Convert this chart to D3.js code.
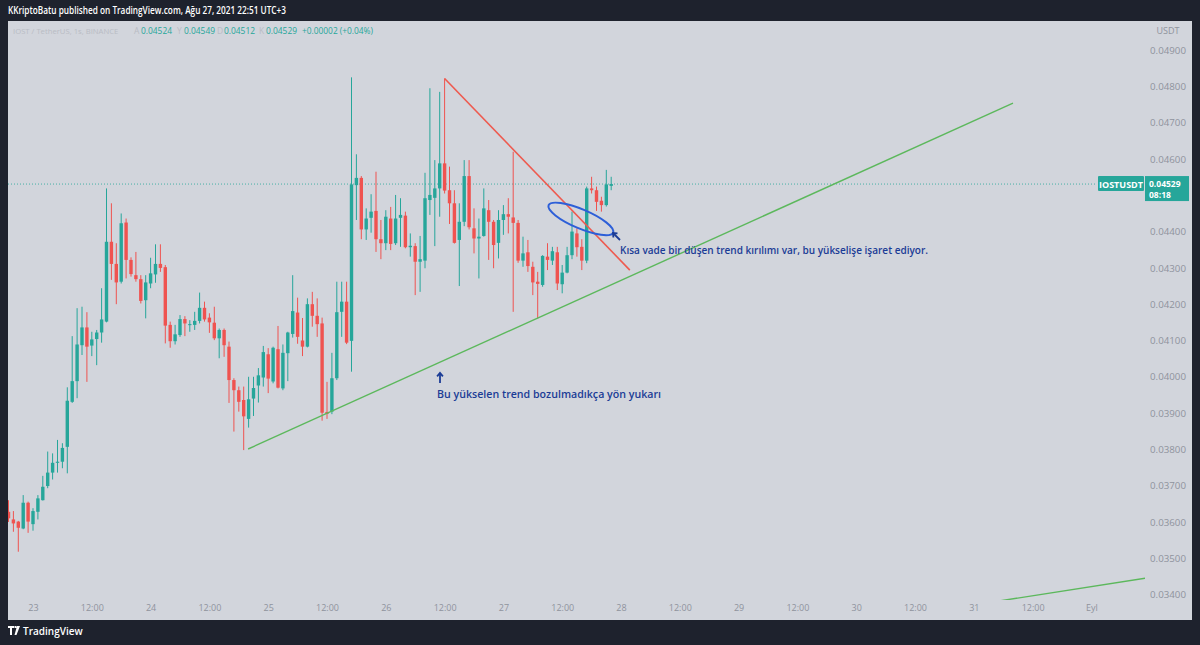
<!DOCTYPE html>
<html><head><meta charset="utf-8">
<script src="https://cdn.jsdelivr.net/npm/d3@7"></script>
<style>
html,body{margin:0;padding:0;background:#1e222d;}
svg{display:block;}
text{font-family:"Open Sans","Noto Sans",sans-serif;}
</style></head><body>
<svg id="chart" width="1200" height="645"></svg>
<script>
// ---------- data (IOST/USDT, 1h candles, starting 22 Aug 2021 19:00 UTC) ----------
const firstCandle = Date.UTC(2021, 7, 22, 19);
const opens = [0.03626,0.03605,0.03599,0.03580,0.03651,0.03592,0.03626,0.03658,0.03697,0.03734,0.03761,0.03764,0.03805,0.03929,0.03986,0.04085,0.04134,0.04084,0.04102,0.04120,0.04150,0.04370,0.04309,0.04260,0.04423,0.04320,0.04278,0.04267,0.04209,0.04255,0.04280,0.04309,0.04300,0.04141,0.04096,0.04113,0.04157,0.04141,0.04141,0.04152,0.04188,0.04161,0.04147,0.04104,0.04127,0.04081,0.03989,0.03961,0.03934,0.03882,0.03938,0.03974,0.03996,0.04060,0.03985,0.04074,0.03966,0.04063,0.04116,0.04175,0.04098,0.04081,0.04198,0.04166,0.04145,0.03901,0.03902,0.03994,0.04177,0.04205,0.04097,0.04526,0.04546,0.04404,0.04436,0.04455,0.04377,0.04366,0.04434,0.04366,0.04436,0.04442,0.04355,0.04358,0.04315,0.04318,0.04485,0.04491,0.04517,0.04586,0.04512,0.04476,0.04375,0.04425,0.04551,0.04407,0.04379,0.04386,0.04457,0.04425,0.04367,0.04430,0.04446,0.04437,0.04422,0.04318,0.04341,0.04301,0.04260,0.04251,0.04329,0.04318,0.04341,0.04253,0.04285,0.04333,0.04393,0.04356,0.04318,0.04517,0.04512,0.04483,0.04471,0.04524];
const highs = [0.03658,0.03628,0.03601,0.03672,0.03654,0.03636,0.03672,0.03725,0.03792,0.03787,0.03824,0.03815,0.03969,0.04110,0.04187,0.04191,0.04176,0.04122,0.04127,0.04242,0.04517,0.04476,0.04366,0.04448,0.04434,0.04327,0.04342,0.04278,0.04278,0.04326,0.04363,0.04363,0.04306,0.04150,0.04141,0.04168,0.04165,0.04154,0.04177,0.04230,0.04205,0.04173,0.04191,0.04131,0.04131,0.04095,0.03994,0.03971,0.03971,0.03998,0.03998,0.04022,0.04083,0.04077,0.04081,0.04138,0.04087,0.04122,0.04278,0.04216,0.04160,0.04214,0.04232,0.04214,0.04161,0.03984,0.04064,0.04260,0.04260,0.04260,0.04823,0.04611,0.04551,0.04462,0.04501,0.04563,0.04430,0.04457,0.04466,0.04499,0.04490,0.04453,0.04393,0.04366,0.04386,0.04560,0.04793,0.04595,0.04783,0.04820,0.04577,0.04512,0.04476,0.04595,0.04595,0.04462,0.04434,0.04517,0.04485,0.04430,0.04457,0.04471,0.04490,0.04618,0.04430,0.04384,0.04375,0.04315,0.04287,0.04333,0.04366,0.04356,0.04356,0.04306,0.04356,0.04453,0.04407,0.04377,0.04522,0.04549,0.04522,0.04494,0.04568,0.04549];
const lows = [0.03598,0.03571,0.03516,0.03578,0.03568,0.03574,0.03605,0.03657,0.03691,0.03715,0.03734,0.03746,0.03732,0.03926,0.03939,0.04058,0.03984,0.04055,0.04030,0.04092,0.04148,0.04265,0.04198,0.04255,0.04269,0.04274,0.04260,0.04200,0.04159,0.04242,0.04257,0.04287,0.04090,0.04078,0.04087,0.04108,0.04110,0.04122,0.04127,0.04145,0.04150,0.04119,0.04099,0.04049,0.04053,0.03926,0.03847,0.03902,0.03796,0.03858,0.03890,0.03927,0.03971,0.03953,0.03980,0.03966,0.03961,0.03986,0.04106,0.04089,0.04055,0.04079,0.04136,0.04108,0.03877,0.03882,0.03895,0.03989,0.04108,0.04088,0.04012,0.04430,0.04377,0.04375,0.04395,0.04342,0.04322,0.04347,0.04347,0.04361,0.04356,0.04352,0.04329,0.04223,0.04232,0.04297,0.04444,0.04358,0.04439,0.04503,0.04419,0.04365,0.04248,0.04413,0.04404,0.04338,0.04269,0.04384,0.04320,0.04297,0.04324,0.04389,0.04393,0.04177,0.04312,0.04301,0.04287,0.04223,0.04159,0.04246,0.04292,0.04306,0.04237,0.04228,0.04283,0.04322,0.04329,0.04292,0.04311,0.04503,0.04455,0.04453,0.04467,0.04512];
const closes = [0.03608,0.03594,0.03582,0.03651,0.03599,0.03628,0.03663,0.03695,0.03734,0.03761,0.03764,0.03802,0.03932,0.03986,0.04087,0.04134,0.04081,0.04101,0.04120,0.04156,0.04370,0.04309,0.04258,0.04421,0.04320,0.04281,0.04267,0.04207,0.04258,0.04283,0.04309,0.04298,0.04139,0.04096,0.04115,0.04157,0.04145,0.04143,0.04152,0.04188,0.04156,0.04148,0.04104,0.04127,0.04085,0.03989,0.03961,0.03929,0.03889,0.03936,0.03967,0.04002,0.04066,0.03993,0.04078,0.03968,0.04064,0.04120,0.04179,0.04108,0.04081,0.04198,0.04166,0.04143,0.03899,0.03896,0.03994,0.04176,0.04205,0.04092,0.04528,0.04546,0.04404,0.04434,0.04453,0.04377,0.04366,0.04439,0.04364,0.04434,0.04444,0.04355,0.04359,0.04315,0.04322,0.04490,0.04499,0.04517,0.04586,0.04511,0.04476,0.04367,0.04425,0.04551,0.04410,0.04379,0.04384,0.04462,0.04425,0.04361,0.04430,0.04446,0.04439,0.04422,0.04318,0.04338,0.04303,0.04258,0.04254,0.04331,0.04320,0.04344,0.04255,0.04285,0.04333,0.04398,0.04355,0.04318,0.04517,0.04512,0.04480,0.04471,0.04528,0.04529];

const priceTicks = [0.034,0.035,0.036,0.037,0.038,0.039,0.040,0.041,0.042,0.043,0.044,0.045,0.046,0.047,0.048,0.049];
const lastPrice = 0.04529;
const lastChange = 0.00002;
const lastChangePct = 0.04;
const lastCountdown = "08:18";
const monthNames = {8:"Eyl"};

// drawings (time, price)
const redTrend   = [[Date.UTC(2021,7,26,12), 0.04820], [Date.UTC(2021,7,28,1,48), 0.04292]];
const greenTrend = [[Date.UTC(2021,7,24,19,54), 0.03799], [Date.UTC(2021,7,31,8), 0.04752]];
const greenLow   = [[Date.UTC(2021,7,31,5), 0.03380], [Date.UTC(2021,8,1,11), 0.03443]];
const ellipseC   = [Date.UTC(2021,7,27,15,48), 0.04433];

const candles = opens.map((o,i)=>({t:new Date(firstCandle + i*3600e3), o, h:highs[i], l:lows[i], c:closes[i]}));

// ---------- layout ----------
const svg = d3.select("#chart");
const BG = "#d2d5dc", FRAME="#1e222d", UP="#26a69a", DOWN="#ef5350", AXT="#8f939c";
const panel = {x0:8, x1:1192, y0:21, y1:620};
const plot  = {x0:8, x1:1145, y0:21, y1:600};

svg.append("rect").attr("width",1200).attr("height",645).attr("fill",FRAME);
svg.append("rect").attr("x",panel.x0).attr("y",panel.y0).attr("width",panel.x1-panel.x0).attr("height",panel.y1-panel.y0).attr("fill",BG);

const x = d3.scaleUtc().domain([new Date(Date.UTC(2021,7,23)), new Date(Date.UTC(2021,8,1))]).range([33, 33+216*4.9]);
const y = d3.scaleLinear().domain([0.03383, 0.04981]).range([600, 20]);

const defs = svg.append("defs");
defs.append("clipPath").attr("id","clipPlot").append("rect")
  .attr("x",plot.x0).attr("y",plot.y0).attr("width",plot.x1-plot.x0).attr("height",plot.y1-plot.y0);
defs.append("clipPath").attr("id","clipAxisY").append("rect")
  .attr("x",plot.x1).attr("y",plot.y0+16).attr("width",panel.x1-plot.x1).attr("height",plot.y1-plot.y0-16);

// header
svg.append("text").attr("x",8).attr("y",14).attr("fill","#ffffff").attr("font-size",10).attr("font-weight",600)
  .attr("textLength",278).attr("lengthAdjust","spacingAndGlyphs")
  .text("KKriptoBatu published on TradingView.com, Ağu 27, 2021 22:51 UTC+3");

// price axis (labels hidden where the last-price label sits)
const visibleTicks = priceTicks.filter(p => Math.abs(y(p) - y(lastPrice)) > 14);
const yAxis = d3.axisRight(y).tickValues(visibleTicks).tickFormat(d3.format(".5f")).tickSize(0).tickPadding(0);
const gy = svg.append("g").attr("clip-path","url(#clipAxisY)").append("g").attr("transform",`translate(${1150},1)`).call(yAxis);
gy.select(".domain").remove();
gy.selectAll("text").attr("fill",AXT).attr("font-size",9).attr("font-family","'Open Sans',sans-serif").attr("textLength",36).attr("lengthAdjust","spacingAndGlyphs");
svg.append("text").attr("x",1168).attr("y",34).attr("text-anchor","middle").attr("fill",AXT).attr("font-size",9).text("USDT");

// time axis
const timeTicks = d3.range(0, 217, 12).map(h => new Date(Date.UTC(2021,7,23) + h*3600e3));
const fmtTime = d => d.getUTCHours()===12 ? "12:00" : (d.getUTCDate()===1 ? monthNames[d.getUTCMonth()] : String(d.getUTCDate()));
const xAxis = d3.axisBottom(x).tickValues(timeTicks).tickFormat(fmtTime).tickSize(0).tickPadding(0);
const gx = svg.append("g").attr("transform","translate(0,605)").call(xAxis);
gx.select(".domain").remove();
gx.selectAll("text").attr("fill",AXT).attr("font-size",9).attr("font-family","'Open Sans',sans-serif");

// plot content
const g = svg.append("g").attr("clip-path","url(#clipPlot)");

// last price dotted line
g.append("line").attr("x1",plot.x0).attr("x2",1097).attr("y1",y(lastPrice)).attr("y2",y(lastPrice))
  .attr("stroke",UP).attr("stroke-width",1).attr("stroke-dasharray","1,2").attr("opacity",0.8);

// candles
const bw = 3.4;
const cg = g.append("g");
cg.selectAll("line.wick").data(candles).join("line").attr("class","wick")
  .attr("x1",d=>x(d.t)).attr("x2",d=>x(d.t)).attr("y1",d=>y(d.h)).attr("y2",d=>y(d.l))
  .attr("stroke",d=>d.c>=d.o?UP:DOWN).attr("stroke-width",1);
cg.selectAll("rect.body").data(candles).join("rect").attr("class","body")
  .attr("x",d=>x(d.t)-bw/2).attr("width",bw)
  .attr("y",d=>y(Math.max(d.o,d.c))).attr("height",d=>Math.max(1, Math.abs(y(d.o)-y(d.c))))
  .attr("fill",d=>d.c>=d.o?UP:DOWN);

// trend lines
const line = d3.line().x(d=>x(new Date(d[0]))).y(d=>y(d[1]));
g.append("path").attr("d",line(redTrend)).attr("stroke","#ee5a4f").attr("stroke-width",1.6).attr("fill","none");
g.append("path").attr("d",line(greenTrend)).attr("stroke","#5cb85c").attr("stroke-width",1.4).attr("fill","none");
g.append("path").attr("d",line(greenLow)).attr("stroke","#5cb85c").attr("stroke-width",1.4).attr("fill","none");

// ellipse
g.append("ellipse").attr("cx",0).attr("cy",0).attr("rx",35).attr("ry",9.5)
  .attr("transform",`translate(${x(new Date(ellipseC[0]))},${y(ellipseC[1])}) rotate(23)`)
  .attr("fill","none").attr("stroke","#2d5fd8").attr("stroke-width",2);

// annotation arrows & texts
const NAVY = "#1b3c96";
function arrow(x1,y1,x2,y2){
  g.append("line").attr("x1",x1).attr("y1",y1).attr("x2",x2).attr("y2",y2).attr("stroke",NAVY).attr("stroke-width",1.8);
  const a = Math.atan2(y2-y1,x2-x1), L=4.5;
  const p1=[x2-L*Math.cos(a-0.7), y2-L*Math.sin(a-0.7)], p2=[x2-L*Math.cos(a+0.7), y2-L*Math.sin(a+0.7)];
  g.append("path").attr("d",`M${p1}L${x2},${y2}L${p2}`).attr("stroke",NAVY).attr("stroke-width",1.8).attr("fill","none");
}
arrow(440,383,440,373);
arrow(620,240,613,233);
g.append("text").attr("x",620).attr("y",254).attr("fill",NAVY).attr("font-size",10).attr("font-weight",600)
  .attr("textLength",308).attr("lengthAdjust","spacingAndGlyphs")
  .text("Kısa vade bir düşen trend kırılımı var, bu yükselişe işaret ediyor.");
g.append("text").attr("x",437).attr("y",398).attr("fill",NAVY).attr("font-size",10).attr("font-weight",600)
  .attr("textLength",224).attr("lengthAdjust","spacingAndGlyphs")
  .text("Bu yükselen trend bozulmadıkça yön yukarı");

// legend row
const LEGT = "#b9bcc4";
svg.append("text").attr("x",13).attr("y",34).attr("font-size",7.7).attr("fill",LEGT).text("IOST / TetherUS, 1s, BINANCE");
const leg = svg.append("text").attr("y",34).attr("font-size",9.5);
const ohlc = [["A",opens.at(-1),134],["Y",highs.at(-1),177],["D",lows.at(-1),217],["K",closes.at(-1),259]];
ohlc.forEach(([k,v,px])=>{
  leg.append("tspan").attr("x",px).attr("fill",LEGT).attr("font-size",8.5).text(k);
  leg.append("tspan").attr("x",px+7).attr("fill",UP).attr("textLength",31).attr("lengthAdjust","spacingAndGlyphs").text(d3.format(".5f")(v));
});
leg.append("tspan").attr("x",302).attr("fill",UP).attr("textLength",71).attr("lengthAdjust","spacingAndGlyphs")
  .text(`+${d3.format(".5f")(lastChange)} (+${d3.format(".2f")(lastChangePct)}%)`);

// price labels on the right
const yl = y(lastPrice);
svg.append("rect").attr("x",1098).attr("y",yl-8).attr("width",46).attr("height",15).attr("fill",UP).attr("rx",1);
svg.append("text").attr("x",1121).attr("y",yl+3.5).attr("text-anchor","middle").attr("fill","#fff").attr("font-size",9).attr("font-weight",700).text("IOSTUSDT");
svg.append("rect").attr("x",1145).attr("y",yl-8).attr("width",44).attr("height",25).attr("fill",UP);
svg.append("text").attr("x",1149).attr("y",yl+3).attr("fill","#fff").attr("font-size",8.5).attr("font-weight",700).text(d3.format(".5f")(lastPrice));
svg.append("text").attr("x",1149).attr("y",yl+14).attr("fill","#fff").attr("font-size",8.5).attr("font-weight",700).text(lastCountdown);

// TradingView footer
const lg = svg.append("g").attr("transform","translate(8,626)");
lg.append("path").attr("d","M0,0H6V2H4V9H2V2H0Z M6.5,0H8.5V2H6.5Z M9,0H12L8.5,9H6.5Z").attr("fill","#fff");
svg.append("text").attr("x",23).attr("y",635).attr("fill","#fff").attr("font-size",10).attr("font-weight",600).text("TradingView");
</script>
</body></html>
